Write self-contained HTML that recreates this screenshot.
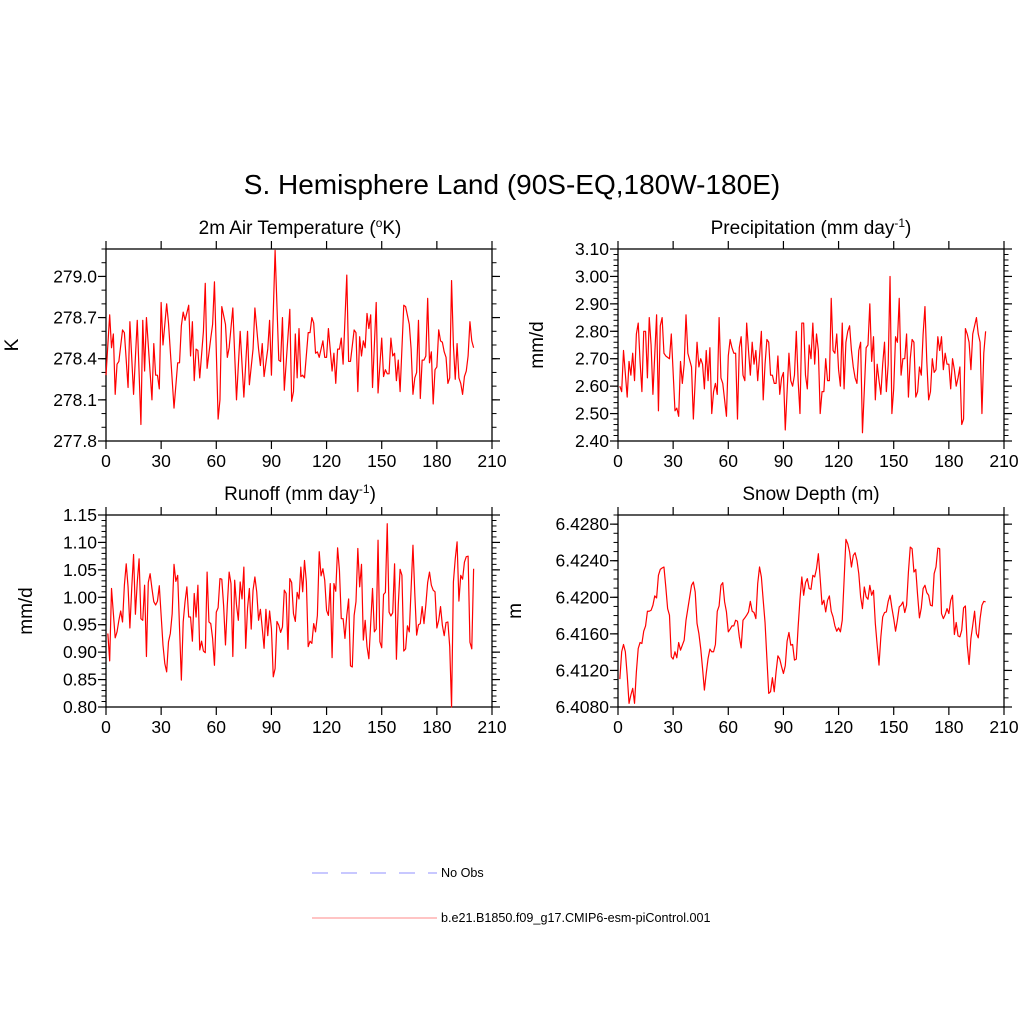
<!DOCTYPE html>
<html><head><meta charset="utf-8"><style>
html,body{margin:0;padding:0;background:#fff;}
svg{display:block;font-family:"Liberation Sans",Arial,sans-serif;}
</style></head><body>
<svg id="chart" width="1024" height="1024" viewBox="0 0 1024 1024" xmlns="http://www.w3.org/2000/svg">
<rect width="1024" height="1024" fill="#fff"/>
<text x="512" y="194" font-size="28" text-anchor="middle">S. Hemisphere Land (90S-EQ,180W-180E)</text>
<text x="300" y="234" font-size="19" text-anchor="middle">2m Air Temperature (<tspan baseline-shift="super" font-size="12">o</tspan>K)</text>
<text x="811" y="234" font-size="19" text-anchor="middle">Precipitation (mm day<tspan baseline-shift="super" font-size="12">-1</tspan>)</text>
<text x="300" y="500" font-size="19" text-anchor="middle">Runoff (mm day<tspan baseline-shift="super" font-size="12">-1</tspan>)</text>
<text x="811" y="500" font-size="19" text-anchor="middle">Snow Depth (m)</text>
<text x="18" y="345" font-size="19" text-anchor="middle" transform="rotate(-90 18 345)">K</text>
<text x="543" y="345" font-size="19" text-anchor="middle" transform="rotate(-90 543 345)">mm/d</text>
<text x="32" y="611" font-size="19" text-anchor="middle" transform="rotate(-90 32 611)">mm/d</text>
<text x="521" y="611" font-size="19" text-anchor="middle" transform="rotate(-90 521 611)">m</text>
<g>
<line x1="312" y1="873" x2="437" y2="873" stroke="#a8a8ff" stroke-width="1.3" stroke-dasharray="16,13"/>
<text x="441" y="877" font-size="12.6">No Obs</text>
<line x1="312" y1="918" x2="437" y2="918" stroke="#ffa0a0" stroke-width="1.3"/>
<text x="441" y="922" font-size="12.6">b.e21.B1850.f09_g17.CMIP6-esm-piControl.001</text>
</g>
<g id="panels"></g>
</svg>
<script>
const xTicks = [0,30,60,90,120,150,180,210];

const tempYears = [0,2,3,4,5,6,7,9,10,12,13,15,17,19,20,21,22,24,25,26,27,28,29,30,31,33,34,37,39,40,41,42,43,45,46,47,48,49,50,51,53,54,55,57,58,59,61,62,63,65,66,67,69,71,73,75,77,78,80,81,83,84,85,86,88,89,90,92,94,95,96,97,100,101,102,103,104,105,106,107,108,110,111,112,113,114,115,116,118,119,120,121,123,124,125,126,127,128,129,131,132,133,135,136,137,138,139,140,141,142,143,144,145,147,148,150,151,152,153,154,155,156,157,158,159,160,162,163,165,166,167,168,169,170,171,172,173,174,175,176,177,178,179,180,181,182,183,184,185,186,187,188,189,190,191,192,193,194,195,196,197,198,199,200];
const tempValues = [278.28,278.72,278.48,278.58,278.14,278.36,278.38,278.61,278.59,278.19,278.67,278.14,278.68,277.92,278.68,278.31,278.70,278.30,278.10,278.51,278.28,278.28,278.18,278.81,278.50,278.80,278.66,278.04,278.37,278.37,278.64,278.74,278.68,278.79,278.42,278.67,278.24,278.47,278.46,278.26,278.60,278.95,278.33,278.55,278.65,278.96,277.96,278.10,278.78,278.65,278.41,278.48,278.77,278.10,278.60,278.12,278.60,278.21,278.47,278.77,278.47,278.35,278.51,278.27,278.47,278.68,278.28,279.19,278.39,278.38,278.70,278.17,278.76,278.09,278.16,278.58,278.26,278.62,278.27,278.28,278.26,278.59,278.59,278.70,278.66,278.44,278.45,278.41,278.53,278.41,278.41,278.62,278.31,278.44,278.22,278.47,278.47,278.55,278.36,279.01,278.38,278.38,278.61,278.59,278.16,278.56,278.42,278.53,278.48,278.73,278.62,278.72,278.19,278.81,278.15,278.55,278.27,278.32,278.29,278.29,278.55,278.42,278.44,278.24,278.39,278.16,278.79,278.78,278.65,278.47,278.14,278.26,278.30,278.68,278.11,278.39,278.39,278.42,278.84,278.37,278.45,278.07,278.32,278.34,278.61,278.53,278.52,278.45,278.41,278.22,278.26,278.97,278.50,278.25,278.51,278.26,278.22,278.14,278.27,278.31,278.42,278.67,278.53,278.48];
const tempTickLabels = ["277.8","278.1","278.4","278.7","279.0"];

const precipYears = [1,2,3,5,6,7,8,9,10,11,12,13,14,15,16,17,18,19,21,22,23,24,25,26,28,29,31,32,33,34,35,36,37,38,40,41,43,44,45,46,47,48,49,50,51,52,53,54,55,56,57,59,60,61,62,63,64,65,66,67,68,69,70,71,72,73,74,75,76,78,79,80,81,82,83,84,85,86,87,88,89,90,91,93,94,95,96,97,98,99,100,101,102,103,104,105,106,107,108,109,110,111,112,113,114,115,116,117,118,119,120,121,122,123,124,125,126,127,128,129,130,131,132,133,135,136,137,138,139,140,141,142,143,144,145,146,147,148,149,150,151,152,153,154,155,156,157,158,159,160,161,162,163,164,165,166,167,168,169,170,171,172,173,174,175,176,177,178,179,180,181,182,183,184,185,186,187,188,189,190,191,192,193,194,195,196,197,198,199,200];
const precipValues = [2.60,2.58,2.73,2.56,2.69,2.64,2.72,2.62,2.79,2.83,2.69,2.58,2.80,2.80,2.63,2.85,2.75,2.57,2.86,2.51,2.82,2.85,2.72,2.71,2.70,2.79,2.51,2.52,2.49,2.69,2.61,2.68,2.86,2.72,2.67,2.48,2.76,2.67,2.70,2.68,2.59,2.73,2.62,2.74,2.50,2.58,2.61,2.57,2.85,2.63,2.61,2.49,2.71,2.77,2.74,2.72,2.72,2.48,2.74,2.78,2.64,2.62,2.83,2.73,2.64,2.76,2.68,2.73,2.62,2.80,2.55,2.68,2.77,2.76,2.64,2.64,2.61,2.61,2.71,2.57,2.63,2.65,2.44,2.72,2.62,2.60,2.64,2.80,2.62,2.50,2.83,2.83,2.64,2.59,2.75,2.70,2.83,2.68,2.79,2.73,2.50,2.58,2.58,2.70,2.62,2.62,2.92,2.73,2.72,2.79,2.66,2.60,2.83,2.59,2.76,2.80,2.82,2.73,2.67,2.63,2.61,2.73,2.76,2.43,2.74,2.75,2.90,2.69,2.78,2.55,2.68,2.62,2.57,2.68,2.76,2.58,2.68,3.00,2.50,2.59,2.78,2.76,2.92,2.64,2.70,2.70,2.79,2.56,2.70,2.77,2.76,2.56,2.58,2.67,2.64,2.79,2.89,2.69,2.55,2.58,2.70,2.65,2.66,2.78,2.73,2.78,2.66,2.72,2.68,2.68,2.59,2.70,2.66,2.60,2.63,2.67,2.46,2.48,2.81,2.79,2.76,2.66,2.79,2.82,2.85,2.79,2.76,2.50,2.72,2.80];
const precipTickLabels = ["2.40","2.50","2.60","2.70","2.80","2.90","3.00","3.10"];

const runoffYears = [1,2,3,5,6,7,8,9,10,11,12,13,14,15,16,17,18,19,20,21,22,23,24,25,26,27,28,29,30,31,32,33,34,35,36,37,38,39,41,42,43,44,45,46,47,48,49,50,51,52,53,54,55,56,57,58,59,60,61,62,63,64,65,66,67,68,69,70,71,72,73,74,75,76,77,78,79,80,81,82,83,84,85,86,87,88,89,90,91,92,93,94,95,96,97,98,99,100,101,102,103,104,105,106,107,108,109,110,111,112,113,114,115,116,117,118,119,120,121,122,123,124,125,126,127,128,129,130,131,132,133,134,135,136,137,138,139,140,141,142,143,144,145,146,147,148,149,150,151,152,153,154,155,156,157,158,159,160,161,162,163,164,165,166,167,168,169,170,171,172,173,174,175,176,177,178,179,180,181,182,183,184,185,186,187,188,189,190,191,192,193,194,195,196,197,198,199,200];
const runoffValues = [0.934,0.884,1.016,0.926,0.937,0.958,0.975,0.955,1.022,1.061,1.019,0.944,1.017,1.078,0.969,1.027,1.070,0.961,0.958,1.022,0.892,1.027,1.043,1.016,0.992,0.986,0.993,1.021,0.967,0.913,0.879,0.864,0.919,0.934,0.970,1.060,1.029,1.040,0.849,0.955,0.992,1.019,0.964,0.964,0.920,1.007,0.964,1.022,0.904,0.920,0.902,0.899,1.046,0.955,0.952,0.925,0.876,0.973,0.981,1.034,1.033,0.984,0.913,0.986,1.046,1.025,0.892,1.031,0.986,0.958,1.028,0.997,1.055,0.907,0.980,1.016,0.942,1.013,1.037,1.010,0.958,0.978,0.944,0.907,0.978,0.930,0.975,0.943,0.855,0.870,0.956,0.949,0.936,0.946,1.013,1.007,0.905,1.034,1.027,0.970,0.956,1.009,0.997,1.055,1.010,1.067,1.028,0.910,0.920,0.916,0.952,0.937,0.967,1.083,1.039,1.052,1.031,0.976,0.967,1.025,0.890,1.025,1.011,1.090,1.049,0.961,0.961,0.925,0.967,0.997,0.875,0.873,0.967,0.992,1.089,1.019,1.060,0.922,0.958,0.910,0.888,0.952,1.016,0.937,0.942,1.104,0.919,0.908,1.005,1.009,1.134,0.973,0.966,0.972,1.061,0.887,0.986,1.051,1.040,0.902,0.906,0.948,0.937,1.016,1.095,1.007,0.931,0.950,0.952,0.983,0.952,0.986,1.027,1.046,1.022,1.013,1.010,0.944,0.958,0.983,0.949,0.930,0.954,0.955,0.910,0.800,1.028,1.070,1.101,0.993,1.040,1.033,1.064,1.074,1.075,0.918,0.906,1.052];
const runoffTickLabels = ["0.80","0.85","0.90","0.95","1.00","1.05","1.10","1.15"];

const snowYears = [1,2,3,4,5,6,7,8,9,10,11,12,13,14,15,16,17,18,19,20,21,22,23,24,25,26,27,28,29,30,31,32,33,34,35,36,37,38,39,40,41,42,43,44,45,46,47,48,49,50,51,52,53,54,55,56,57,58,59,60,61,62,63,64,65,66,67,68,69,70,71,72,73,74,75,76,77,78,79,80,81,82,83,84,85,86,87,88,89,90,91,92,93,94,95,96,97,98,99,100,101,102,103,104,105,106,107,108,109,110,111,112,113,114,115,116,117,118,119,120,121,122,123,124,125,126,127,128,129,130,131,132,133,134,135,136,137,138,139,140,141,142,143,144,145,146,147,148,149,150,151,152,153,154,155,156,157,158,159,160,161,162,163,164,165,166,167,168,169,170,171,172,173,174,175,176,177,178,179,180,181,182,183,184,185,186,187,188,189,190,191,192,193,194,195,196,197,198,199,200];
const snowValues = [6.41105,6.41404,6.41484,6.41404,6.41149,6.40840,6.40931,6.41004,6.40840,6.41185,6.41440,6.41505,6.41495,6.41629,6.41687,6.41847,6.41847,6.41858,6.41913,6.42015,6.41993,6.42240,6.42305,6.42320,6.42331,6.42113,6.41876,6.41804,6.41349,6.41324,6.41404,6.41338,6.41505,6.41422,6.41476,6.41531,6.41749,6.41876,6.42004,6.42131,6.42167,6.42058,6.41713,6.41604,6.41440,6.41222,6.40985,6.41167,6.41331,6.41433,6.41404,6.41404,6.41484,6.41847,6.41905,6.42131,6.42160,6.41949,6.41840,6.41622,6.41651,6.41687,6.41687,6.41749,6.41738,6.41567,6.41447,6.41749,6.41775,6.41804,6.41840,6.41956,6.41847,6.41833,6.41767,6.42149,6.42331,6.42222,6.41967,6.41724,6.41331,6.40949,6.40967,6.41120,6.40967,6.41185,6.41360,6.41324,6.41240,6.41167,6.41251,6.41520,6.41615,6.41476,6.41484,6.41313,6.41324,6.41676,6.41978,6.42222,6.42022,6.42160,6.42204,6.42095,6.42087,6.42240,6.42222,6.42313,6.42476,6.42204,6.41920,6.41967,6.41840,6.41967,6.42015,6.41847,6.41785,6.41687,6.41629,6.41665,6.41622,6.41749,6.42185,6.42633,6.42585,6.42495,6.42331,6.42458,6.42487,6.42404,6.42258,6.42004,6.41876,6.42113,6.42004,6.41978,6.42131,6.42022,6.42076,6.41713,6.41476,6.41258,6.41567,6.41785,6.41833,6.41840,6.41956,6.42022,6.41884,6.41767,6.41629,6.41749,6.41895,6.41913,6.41949,6.41833,6.41913,6.42276,6.42549,6.42531,6.42276,6.42305,6.42022,6.41775,6.41884,6.42095,6.42131,6.42051,6.42022,6.41913,6.41905,6.42258,6.42331,6.42538,6.42531,6.41822,6.41767,6.41811,6.41876,6.41822,6.41967,6.42022,6.41593,6.41724,6.41578,6.41567,6.41640,6.41884,6.41905,6.41476,6.41265,6.41549,6.41695,6.41847,6.41604,6.41556,6.41767,6.41913,6.41956,6.41949];
const snowTickLabels = ["6.4080","6.4120","6.4160","6.4200","6.4240","6.4280"];

const NS = "http://www.w3.org/2000/svg";
const root = document.getElementById("panels");
function mk(tag, attrs, parent) {
  const el = document.createElementNS(NS, tag);
  for (const k in attrs) el.setAttribute(k, attrs[k]);
  parent.appendChild(el);
  return el;
}

function drawPanel(name, box, years, values, tickLabels, ymin, ymax, minorStep) {
  const g = mk("g", {}, root);
  
  
  const xs = v => box.x0 + (v - 0) / 210 * (box.x1 - box.x0);
  const ys = v => box.y1 - (v - ymin) / (ymax - ymin) * (box.y1 - box.y0);
  const nMinor = Math.round((ymax - ymin) / minorStep);
  for (let i = 0; i <= nMinor; i++) {
    const y = ys(ymin + i * minorStep);
    const t1 = mk("line", {x1: box.x0 - 4.5, x2: box.x0, y1: y, y2: y, stroke: "#000", "stroke-width": 1}, g);
    
    
    const t2 = mk("line", {x1: box.x1, x2: box.x1 + 4.5, y1: y, y2: y, stroke: "#000", "stroke-width": 1}, g);
    
    
  }
  tickLabels.forEach(lbl => {
    const y = ys(parseFloat(lbl));
    const t1 = mk("line", {x1: box.x0 - 8, x2: box.x0, y1: y, y2: y, stroke: "#000", "stroke-width": 1.2}, g);
    
    
    const t2 = mk("line", {x1: box.x1, x2: box.x1 + 8, y1: y, y2: y, stroke: "#000", "stroke-width": 1.2}, g);
    
    
    const tx = mk("text", {x: box.x0 - 9, y: y + 6, "font-size": 17.5, "text-anchor": "end"}, g);
    tx.textContent = lbl;
    
    
  });
  xTicks.forEach(v => {
    const x = xs(v);
    const t1 = mk("line", {x1: x, x2: x, y1: box.y1, y2: box.y1 + 8, stroke: "#000", "stroke-width": 1.2}, g);
    
    
    const t2 = mk("line", {x1: x, x2: x, y1: box.y0 - 8, y2: box.y0, stroke: "#000", "stroke-width": 1.2}, g);
    
    
    const tx = mk("text", {x: x, y: box.y1 + 26, "font-size": 17.5, "text-anchor": "middle"}, g);
    tx.textContent = String(v);
    
    
  });
  const fr = mk("rect", {x: box.x0, y: box.y0, width: box.x1 - box.x0, height: box.y1 - box.y0, fill: "none", stroke: "#000", "stroke-width": 1.3}, g);
  
  
  const pts = years.map((yr, i) => xs(yr).toFixed(2) + "," + ys(values[i]).toFixed(2)).join(" ");
  const pl = mk("polyline", {points: pts, fill: "none", stroke: "#ff0000", "stroke-width": 1.2, "stroke-linejoin": "round"}, g);
  
  
}

drawPanel("temperature", {x0: 106, x1: 492, y0: 249, y1: 441}, tempYears, tempValues, tempTickLabels, 277.8, 279.2, 0.1);
drawPanel("precipitation", {x0: 618, x1: 1004, y0: 249, y1: 441}, precipYears, precipValues, precipTickLabels, 2.40, 3.10, 0.02);
drawPanel("runoff", {x0: 106, x1: 492, y0: 515, y1: 707}, runoffYears, runoffValues, runoffTickLabels, 0.80, 1.15, 0.01);
drawPanel("snow-depth", {x0: 618, x1: 1004, y0: 515, y1: 707}, snowYears, snowValues, snowTickLabels, 6.4080, 6.4290, 0.001);
</script>
</body></html>
